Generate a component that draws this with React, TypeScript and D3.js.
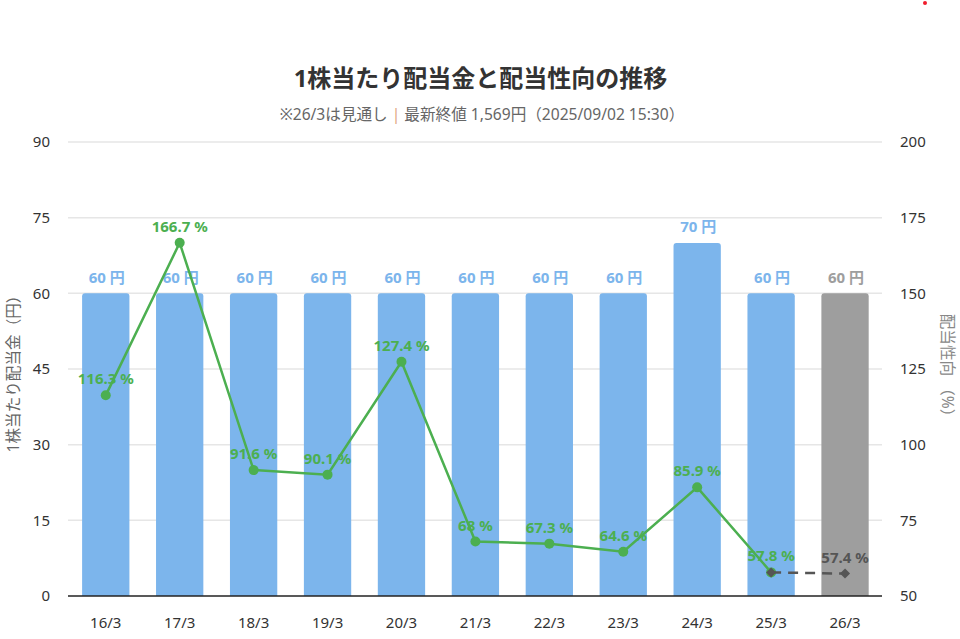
import React, { useEffect, useRef } from "react";
import * as d3 from "d3";

const categories = ["16/3", "17/3", "18/3", "19/3", "20/3", "21/3", "22/3", "23/3", "24/3", "25/3", "26/3"];
const dividends = [60, 60, 60, 60, 60, 60, 60, 60, 70, 60, 60];
const payoutActual = [116.3, 166.7, 91.6, 90.1, 127.4, 68, 67.3, 64.6, 85.9, 57.8];
const payoutForecast: [string, number][] = [["25/3", 57.8], ["26/3", 57.4]];
const forecastCategory = "26/3";
const leftTicks = [0, 15, 30, 45, 60, 75, 90];
const rightTicks = [50, 75, 100, 125, 150, 175, 200];

const FONT = '"Noto Sans", "Noto Sans CJK JP", sans-serif';
const BLUE = "#7cb5ec";
const GREEN = "#4caf50";
const GREY = "#9e9e9e";
const DARK = "#555555";

export default function App() {
  const svgRef = useRef<SVGSVGElement>(null);

  useEffect(() => {
    const svg = d3.select(svgRef.current);
    svg.selectAll("*").remove();
    svg.attr("font-family", FONT);

    const left = 68, right = 882, top = 142, bottom = 596;

    const x = d3.scaleBand().domain(categories).range([left + 0.8, right]).paddingInner(0.36).paddingOuter(0.18);
    const cx = (c: string) => x(c)! + x.bandwidth() / 2;
    const yLeft = d3.scaleLinear().domain([0, 90]).range([bottom, top]);
    const yRight = d3.scaleLinear().domain([50, 200]).range([bottom, top]);

    // 赤い点
    svg.append("circle").attr("cx", 925).attr("cy", 3).attr("r", 2).attr("fill", "#f01c2c");

    // タイトル
    svg.append("text")
      .attr("x", 480.5).attr("y", 87).attr("text-anchor", "middle")
      .attr("font-size", 24).attr("font-weight", 700).attr("fill", "#333333")
      .text("1株当たり配当金と配当性向の推移");

    const sub = svg.append("text")
      .attr("x", 482).attr("y", 120).attr("text-anchor", "middle")
      .attr("font-size", 15.6).attr("fill", "#666666");
    sub.append("tspan").text("※26/3は見通し ");
    sub.append("tspan").attr("fill", "#e0a582").text("|");
    sub.append("tspan").text(" 最新終値 1,569円（2025/09/02 15:30）");

    // グリッド
    svg.append("g").selectAll("line").data(leftTicks.filter((d) => d > 0)).join("line")
      .attr("x1", left).attr("x2", right)
      .attr("y1", (d) => yLeft(d)).attr("y2", (d) => yLeft(d))
      .attr("stroke", "#e6e6e6").attr("stroke-width", 1.5);

    // 軸
    const axisLeft = svg.append("g").attr("transform", `translate(${left},0)`)
      .call(d3.axisLeft(yLeft).tickValues(leftTicks).tickSize(0).tickPadding(18));
    const axisRight = svg.append("g").attr("transform", `translate(${right},0)`)
      .call(d3.axisRight(yRight).tickValues(rightTicks).tickSize(0).tickPadding(18));
    const axisBottom = svg.append("g").attr("transform", `translate(0,${bottom})`)
      .call(d3.axisBottom(x).tickSize(0).tickPadding(21));
    [axisLeft, axisRight, axisBottom].forEach((a) => {
      a.select(".domain").remove();
      a.selectAll("text").attr("font-family", FONT).attr("font-size", 15).attr("fill", "#333333");
    });

    // 棒
    const bars = categories.map((c, i) => ({ c, v: dividends[i] }));
    svg.append("g").selectAll("path").data(bars).join("path")
      .attr("d", (d) => {
        const x0 = x(d.c)!, w = x.bandwidth(), y0 = yLeft(d.v), r = 3;
        return `M${x0},${bottom}V${y0 + r}Q${x0},${y0} ${x0 + r},${y0}H${x0 + w - r}Q${x0 + w},${y0} ${x0 + w},${y0 + r}V${bottom}Z`;
      })
      .attr("fill", (d) => (d.c === forecastCategory ? GREY : BLUE));

    svg.append("line")
      .attr("x1", left).attr("x2", right).attr("y1", bottom).attr("y2", bottom)
      .attr("stroke", "#222222").attr("stroke-width", 1.5);

    svg.append("g").selectAll("text").data(bars).join("text")
      .attr("x", (d) => cx(d.c) + 1).attr("y", (d) => yLeft(d.v) - 10.5)
      .attr("text-anchor", "middle").attr("font-size", 15).attr("font-weight", 700)
      .attr("fill", (d) => (d.c === forecastCategory ? GREY : BLUE))
      .text((d) => `${d.v} 円`);

    // 配当性向
    const actual = payoutActual.map((v, i) => ({ c: categories[i], v }));
    const line = d3.line<{ c: string; v: number }>().x((d) => cx(d.c)).y((d) => yRight(d.v));
    svg.append("path").datum(actual).attr("d", line).attr("fill", "none")
      .attr("stroke", GREEN).attr("stroke-width", 2.5);
    svg.append("g").selectAll("circle").data(actual).join("circle")
      .attr("cx", (d) => cx(d.c)).attr("cy", (d) => yRight(d.v)).attr("r", 5).attr("fill", GREEN);

    // 見通し
    const forecast = payoutForecast.map(([c, v]) => ({ c, v }));
    svg.append("path").datum(forecast).attr("d", line).attr("fill", "none")
      .attr("stroke", DARK).attr("stroke-width", 2.5).attr("stroke-dasharray", "10 7");
    svg.append("g").selectAll("path").data(forecast).join("path")
      .attr("d", d3.symbol(d3.symbolDiamond2, 64))
      .attr("transform", (d) => `translate(${cx(d.c)},${yRight(d.v)})`)
      .attr("fill", DARK);

    svg.append("g").selectAll("text").data(actual).join("text")
      .attr("x", (d) => cx(d.c)).attr("y", (d) => yRight(d.v) - 11)
      .attr("text-anchor", "middle").attr("font-size", 15).attr("font-weight", 700)
      .attr("fill", GREEN)
      .text((d) => `${d.v} %`);
    svg.append("text")
      .attr("x", cx(forecastCategory)).attr("y", yRight(57.4) - 11)
      .attr("text-anchor", "middle").attr("font-size", 15).attr("font-weight", 700)
      .attr("fill", DARK).text("57.4 %");

    // 軸タイトル
    svg.append("text")
      .attr("transform", "translate(19,370) rotate(-90)").attr("text-anchor", "middle")
      .attr("font-size", 15.6).attr("fill", "#666666").text("1株当たり配当金（円）");
    svg.append("text")
      .attr("transform", "translate(942,369) rotate(90)").attr("text-anchor", "middle")
      .attr("font-size", 15.6).attr("fill", "#888888").text("配当性向 （%）");
  }, []);

  return (
    <svg
      ref={svgRef}
      width={960}
      height={639}
      style={{ position: "absolute", left: 0, top: 0, background: "#ffffff" }}
    />
  );
}
